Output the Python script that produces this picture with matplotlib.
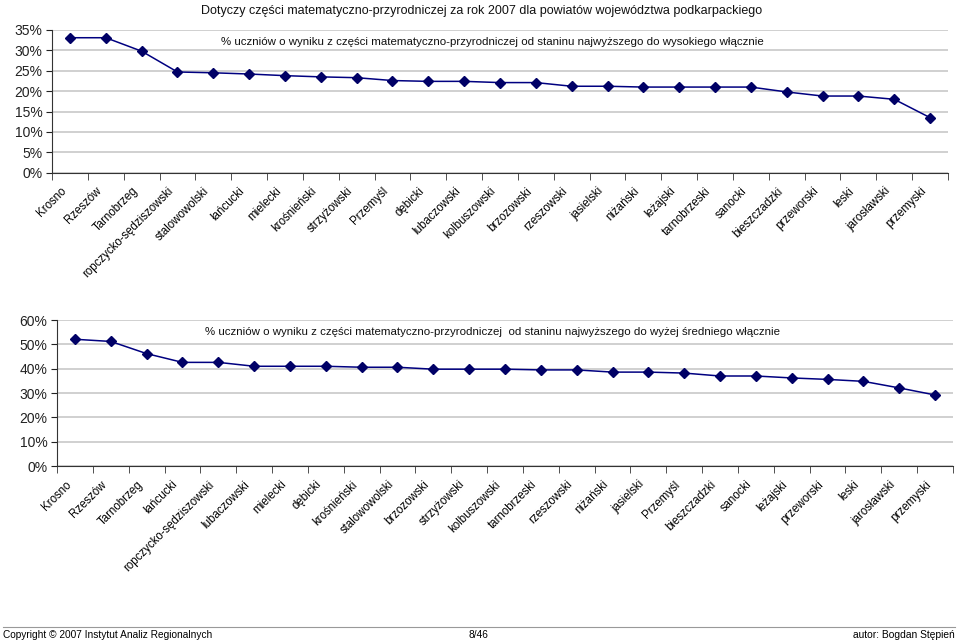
import matplotlib.pyplot as plt
from matplotlib.lines import Line2D
from matplotlib.ticker import FixedLocator, PercentFormatter

plt.rcParams.update({
    "font.family": ["Liberation Sans", "DejaVu Sans"],
    "figure.facecolor": "white",
})

NAVY = "#000080"
GRID = "#c8c8c8"

# top chart: staniny najwyższy .. wysoki
top_names = [
    "Krosno", "Rzeszów", "Tarnobrzeg", "ropczycko-sędziszowski", "stalowowolski",
    "łańcucki", "mielecki", "krośnieński", "strzyżowski", "Przemyśl", "dębicki",
    "lubaczowski", "kolbuszowski", "brzozowski", "rzeszowski", "jasielski",
    "niżański", "leżajski", "tarnobrzeski", "sanocki", "bieszczadzki",
    "przeworski", "leski", "jarosławski", "przemyski",
]
top_vals = [
    33.1, 33.1, 29.8, 24.7, 24.5, 24.2, 23.8, 23.5, 23.3, 22.6, 22.4, 22.4,
    22.1, 22.1, 21.2, 21.2, 21.0, 21.0, 21.0, 21.0, 19.8, 18.8, 18.8, 18.0, 13.5,
]
top_ticks = [0, 5, 10, 15, 20, 25, 30, 35]

# bottom chart: staniny najwyższy .. wyżej średni
bot_names = [
    "Krosno", "Rzeszów", "Tarnobrzeg", "łańcucki", "ropczycko-sędziszowski",
    "lubaczowski", "mielecki", "dębicki", "krośnieński", "stalowowolski",
    "brzozowski", "strzyżowski", "kolbuszowski", "tarnobrzeski", "rzeszowski",
    "niżański", "jasielski", "Przemyśl", "bieszczadzki", "sanocki", "leżajski",
    "przeworski", "leski", "jarosławski", "przemyski",
]
bot_vals = [
    52.1, 51.2, 46.2, 42.6, 42.6, 41.0, 41.0, 41.0, 40.6, 40.6, 39.8, 39.8,
    39.8, 39.5, 39.5, 38.6, 38.6, 38.2, 37.0, 37.0, 36.2, 35.6, 34.8, 32.1, 29.2,
]
bot_ticks = [0, 10, 20, 30, 40, 50, 60]

title = ("Dotyczy części matematyczno-przyrodniczej za rok 2007 "
         "dla powiatów województwa podkarpackiego")
top_note = ("% uczniów o wyniku z części matematyczno-przyrodniczej od staninu "
            "najwyższego do wysokiego włącznie")
bot_note = ("% uczniów o wyniku z części matematyczno-przyrodniczej  od staninu "
            "najwyższego do wyżej średniego włącznie")

LABEL_SHIFT = -0.28  # category labels sit a little left of their point


def panel(ax, names, vals, yticks, note, note_x):
    x = list(range(len(names)))
    ax.plot(x, vals, color=NAVY, lw=1.1, marker="D", ms=5,
            mfc="#000066", mec="#000066", zorder=3)
    ax.set_xlim(-0.5, len(names) - 0.5)
    ax.set_ylim(yticks[0], yticks[-1])
    ax.set_yticks(yticks)
    ax.yaxis.set_major_formatter(PercentFormatter(decimals=0))
    ax.grid(axis="y", color=GRID, lw=1.2)
    ax.set_axisbelow(True)
    for s in ("top", "right"):
        ax.spines[s].set_visible(False)
    ax.spines["left"].set_color("#333")
    ax.spines["bottom"].set_color("#333")
    ax.tick_params(axis="y", labelsize=10, length=4, pad=3, colors="#222")
    ax.set_xticks([i + LABEL_SHIFT for i in x])
    ax.set_xticklabels(names, rotation=45, ha="right", rotation_mode="anchor",
                       fontsize=8.3)
    ax.tick_params(axis="x", length=0, pad=9)
    ax.xaxis.set_minor_locator(FixedLocator([i - 0.5 for i in range(len(names) + 1)]))
    ax.tick_params(axis="x", which="minor", length=5, direction="out", color="#333")
    ax.text(note_x, 0.915, note, transform=ax.transAxes, fontsize=8.25,
            va="center", ha="left", color="#111")


fig = plt.figure(figsize=(9.6, 6.42), dpi=100)
ax1 = fig.add_axes([0.0542, 0.731, 0.9333, 0.2223])
ax2 = fig.add_axes([0.0594, 0.2741, 0.9333, 0.2274])

panel(ax1, top_names, top_vals, top_ticks, top_note, 0.189)
panel(ax2, bot_names, bot_vals, bot_ticks, bot_note, 0.165)

fig.text(0.502, 0.992, title, ha="center", va="top", fontsize=9, color="#111")

fig.add_artist(Line2D([0.003, 0.995], [1 - 627 / 642] * 2, color="#999", lw=0.8))
fig.text(0.003, 1 - 635 / 642, "Copyright © 2007 Instytut Analiz Regionalnych",
         ha="left", va="center", fontsize=7.3)
fig.text(0.498, 1 - 635 / 642, "8/46", ha="center", va="center", fontsize=7.3)
fig.text(0.995, 1 - 635 / 642, "autor: Bogdan Stępień",
         ha="right", va="center", fontsize=7.4)

fig.savefig("out.png", dpi=100)
